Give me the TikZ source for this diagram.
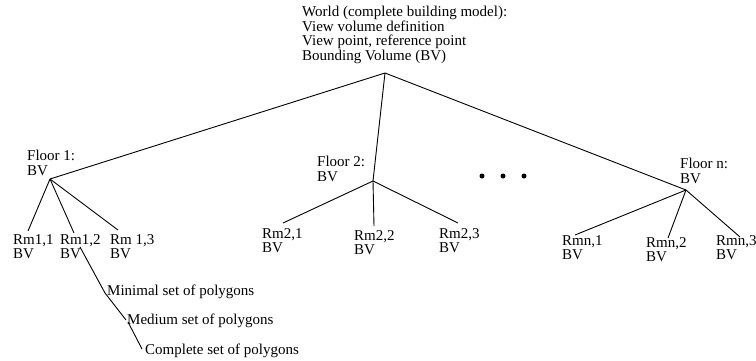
\documentclass[tikz,border=0pt]{standalone}
\usepackage{fontspec}
\setmainfont{Liberation Serif}
\begin{document}
\begin{tikzpicture}[x=1pt,y=-1pt,
  lbl/.style={anchor=north west,inner sep=0pt,align=left,font=\fontsize{15}{14.6}\selectfont},
  link/.style={line width=0.9pt,black},
  dot/.style={circle,fill=black,inner sep=0pt,minimum size=5pt}]
\useasboundingbox (0,0) rectangle (756,360);
% text nodes
\node[lbl] (world) at (302,6) {World (complete building model):\\View volume definition\\View point, reference point\\Bounding Volume (BV)};
\node[lbl] (f1) at (27,150) {Floor 1:\\BV};
\node[lbl] (f2) at (317,156) {Floor 2:\\BV};
\node[lbl] (fn) at (680,158) {Floor n:\\BV};
\node[lbl] (r11) at (13,234) {Rm1,1\\BV};
\node[lbl] (r12) at (60,234) {Rm1,2\\BV};
\node[lbl] (r13) at (110,234) {Rm 1,3\\BV};
\node[lbl] (r21) at (262,228) {Rm2,1\\BV};
\node[lbl] (r22) at (354,230) {Rm2,2\\BV};
\node[lbl] (r23) at (439,228) {Rm2,3\\BV};
\node[lbl] (rn1) at (562,235) {Rmn,1\\BV};
\node[lbl] (rn2) at (646,237) {Rmn,2\\BV};
\node[lbl] (rn3) at (716,235) {Rmn,3\\BV};
\node[lbl] (pmin) at (107,285) {Minimal set of polygons};
\node[lbl] (pmed) at (127,314) {Medium set of polygons};
\node[lbl] (pcom) at (145,344) {Complete set of polygons};
% dots
\node[dot] (d1) at (482,176) {};
\node[dot] (d2) at (503,176) {};
\node[dot] (d3) at (524,176) {};
% junctions and end points
\coordinate (j0) at (385,73);
\coordinate (j1) at (50,179);
\coordinate (j2) at (373,181);
\coordinate (jn) at (686,190);
\coordinate (e11) at (28,231);
\coordinate (e12) at (74,233);
\coordinate (e13) at (118,230);
\coordinate (e21) at (283,223);
\coordinate (e22) at (374,226);
\coordinate (e23) at (458,223);
\coordinate (en1) at (575,235);
\coordinate (en2) at (668,238);
\coordinate (en3) at (740,237);
\coordinate (p0) at (80,247);
\coordinate (p1) at (105,293);
\coordinate (p2) at (126,320);
\coordinate (p3) at (128,322);
\coordinate (p4) at (142,349);
% connectors
\draw[link] (j0) -- (j1);
\draw[link] (j0) -- (j2);
\draw[link] (j0) -- (jn);
\draw[link] (j1) -- (e11);
\draw[link] (j1) -- (e12);
\draw[link] (j1) -- (e13);
\draw[link] (j2) -- (e21);
\draw[link] (j2) -- (e22);
\draw[link] (j2) -- (e23);
\draw[link] (jn) -- (en1);
\draw[link] (jn) -- (en2);
\draw[link] (jn) -- (en3);
\draw[link] (p0) -- (p1);
\draw[link] (p1) -- (p2);
\draw[link] (p3) -- (p4);
\end{tikzpicture}
\end{document}
